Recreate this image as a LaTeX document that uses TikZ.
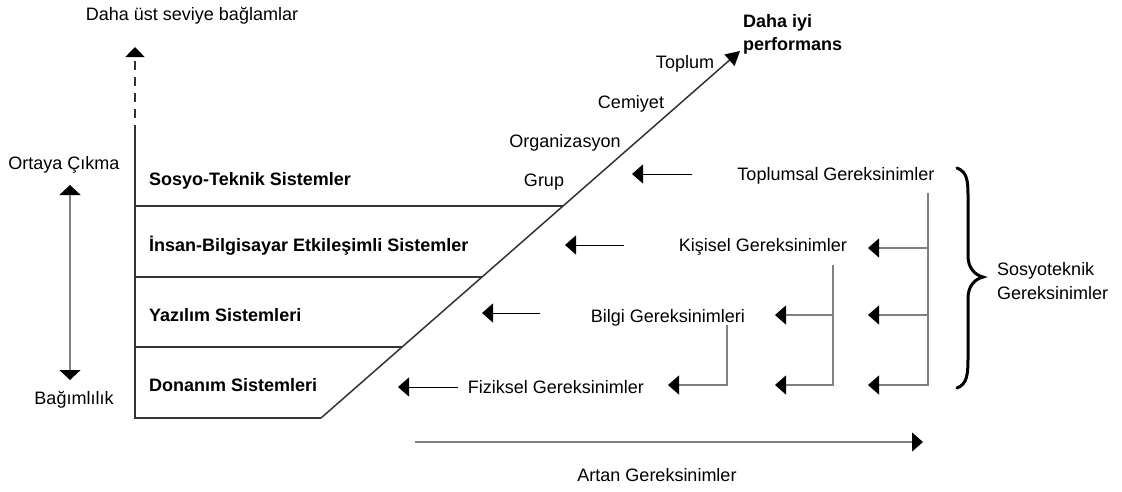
\documentclass[tikz,border=0pt]{standalone}
\usepackage{fontspec}
\setmainfont{Liberation Sans}
\usetikzlibrary{arrows.meta}
\begin{document}
\begin{tikzpicture}[x=1pt,y=-1pt,
  txt/.style={inner sep=0pt, font=\fontsize{18}{23}\selectfont, text height=12.9pt, text depth=0pt},
  lvl/.style={inner sep=0pt, font=\fontsize{18}{23}\selectfont\bfseries, text height=12.9pt, text depth=0pt, anchor=west},
  frame/.style={line width=1.5pt, draw=black!80},
  tipb/.style={-{Triangle[length=11pt,width=19pt,color=black]}},
  req/.style={line width=1pt, tipb},
  conn/.style={line width=1.2pt, draw=black!50},
  connarr/.style={conn, tipb},
]
\useasboundingbox (0,0) rectangle (1122,491);

% frame coordinates
\coordinate (tl) at (135,125);
\coordinate (bl) at (135,418);
\coordinate (br) at (321,418);
\coordinate (tip) at (740,51);
\coordinate (up) at (135,47);
\coordinate (l1) at (135,206); \coordinate (r1) at (563,206);
\coordinate (l2) at (135,277); \coordinate (r2) at (482,277);
\coordinate (l3) at (135,347); \coordinate (r3) at (402,347);

\draw[frame] (tl) -- (bl) -- (br);
\draw[frame, -{Triangle[length=14pt,width=15pt,color=black]}] (br) -- (tip);
\draw[frame] (l1) -- (r1);
\draw[frame] (l2) -- (r2);
\draw[frame] (l3) -- (r3);
\draw[frame, dash pattern=on 9pt off 7pt, dash phase=9pt, -{Triangle[length=10pt,width=19pt,color=black]}] (tl) -- (up);

% texts left
\node[txt] (ust) at (192,14) {Daha üst seviye bağlamlar};
\node[txt] (ortaya) at (64,163) {Ortaya Çıkma};
\node[txt] (bag) at (74,398) {Bağımlılık};
\coordinate (dtop) at (70,185);
\coordinate (dbot) at (70,380);
\draw[conn, {Triangle[length=10pt,width=21pt,color=black]}-{Triangle[length=10pt,width=21pt,color=black]}] (dbot) -- (dtop);

% levels
\node[lvl] (sosyo) at (149,179) {Sosyo-Teknik Sistemler};
\node[lvl] (insan) at (149,245) {İnsan-Bilgisayar Etkileşimli Sistemler};
\node[lvl] (yazilim) at (149,315) {Yazılım Sistemleri};
\node[lvl] (donanim) at (149,385) {Donanım Sistemleri};

% diagonal labels
\node[txt] (toplum) at (685,62) {Toplum};
\node[txt] (cemiyet) at (631,102) {Cemiyet};
\node[txt] (org) at (565,141) {Organizasyon};
\node[txt] (grup) at (544,180) {Grup};
\node[inner sep=0pt, font=\fontsize{18}{23}\selectfont\bfseries, align=left, anchor=west] (daha) at (743,34) {Daha iyi\\performans};

% requirement texts
\node[txt] (toplumsal) at (836,174) {Toplumsal Gereksinimler};
\node[txt] (kisisel) at (763,245) {Kişisel Gereksinimler};
\node[txt] (bilgi) at (668,316) {Bilgi Gereksinimleri};
\node[txt] (fiziksel) at (556,387) {Fiziksel Gereksinimler};

% requirement arrows
\coordinate (a1s) at (692,174); \coordinate (a1e) at (632,174);
\coordinate (a2s) at (624,245); \coordinate (a2e) at (565,245);
\coordinate (a3s) at (540,313); \coordinate (a3e) at (482,313);
\coordinate (a4s) at (458,387); \coordinate (a4e) at (398,387);
\draw[req] (a1s) -- (a1e);
\draw[req] (a2s) -- (a2e);
\draw[req] (a3s) -- (a3e);
\draw[req] (a4s) -- (a4e);

% connectors
\coordinate (c1) at (928,193);
\coordinate (c1a) at (928,248); \coordinate (t1a) at (868,248);
\coordinate (c1b) at (928,315); \coordinate (t1b) at (868,315);
\coordinate (t1c) at (868,385);
\draw[connarr] (c1) |- (t1c);
\draw[connarr] (c1a) -- (t1a);
\draw[connarr] (c1b) -- (t1b);

\coordinate (c2) at (833,265);
\coordinate (c2a) at (833,315); \coordinate (t2a) at (775,315);
\coordinate (t2b) at (775,385);
\draw[connarr] (c2) |- (t2b);
\draw[connarr] (c2a) -- (t2a);

\coordinate (c3) at (727,325);
\coordinate (t3) at (668,385);
\draw[connarr] (c3) |- (t3);

% brace
\draw[line width=3pt, line cap=round] (957,168) .. controls (967,172) and (968,180) .. (968,196) -- (968,256) .. controls (968,268) and (975,275) .. (983,277) .. controls (975,279) and (968,286) .. (968,298) -- (968,358) .. controls (968,375) and (967,384) .. (957,388);
\node[inner sep=0pt, font=\fontsize{18}{24}\selectfont, align=left, anchor=west] (sosyotek) at (997,281) {Sosyoteknik\\Gereksinimler};

% artan
\coordinate (as) at (415,442);
\coordinate (ae) at (923,442);
\draw[conn, tipb] (as) -- (ae);
\node[txt] (artan) at (657,475) {Artan Gereksinimler};
\end{tikzpicture}
\end{document}
